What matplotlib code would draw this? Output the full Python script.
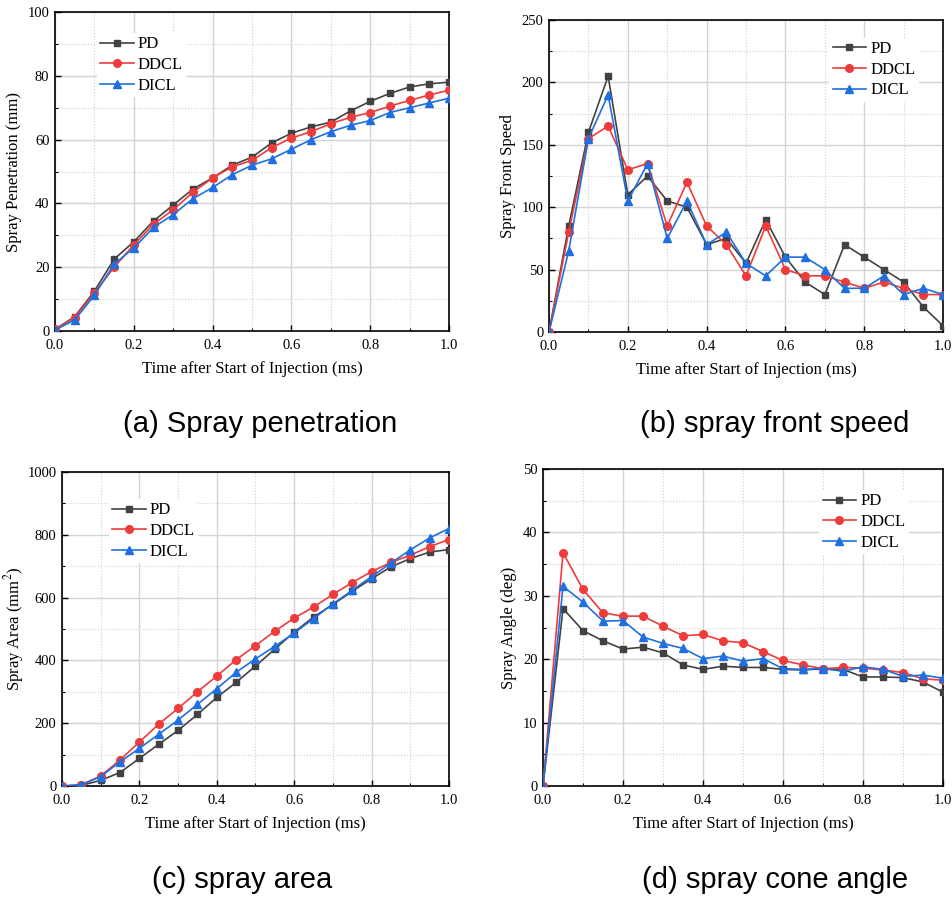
import matplotlib
matplotlib.use('Agg')
import matplotlib.pyplot as plt
from matplotlib.ticker import MultipleLocator, FormatStrFormatter

plt.rcParams['font.family'] = ['Liberation Serif']
plt.rcParams['font.size'] = 11
plt.rcParams['mathtext.fontset'] = 'stix'

# time axis (ms)
time_ms = [0.0, 0.05, 0.1, 0.15, 0.2, 0.25, 0.3, 0.35, 0.4, 0.45, 0.5,
           0.55, 0.6, 0.65, 0.7, 0.75, 0.8, 0.85, 0.9, 0.95, 1.0]
series_names = ['PD', 'DDCL', 'DICL']

# (a) spray penetration (mm)
pen_pd = [0.5, 4.5, 12.5, 22.5, 28, 34.5, 39.5, 44.5, 48, 52, 54.5,
          59, 62, 64, 65.5, 69, 72, 74.5, 76.5, 77.5, 78]
pen_ddcl = [0.5, 4.2, 12, 20, 27, 33.5, 38, 43.5, 48, 51.5, 53.5,
            57.5, 60.5, 62.5, 65, 67, 68.5, 70.5, 72.3, 74, 75.5]
pen_dicl = [0.3, 3.5, 11.2, 21, 26, 32.5, 36.5, 41.5, 45, 49, 52,
            54, 57, 60, 62.5, 64.5, 66, 68.5, 70, 71.5, 73]

# (b) spray front speed
spd_pd = [0, 85, 160, 205, 110, 125, 105, 100, 70, 75, 55,
          90, 60, 40, 30, 70, 60, 50, 40, 20, 5]
spd_ddcl = [0, 80, 155, 165, 130, 135, 85, 120, 85, 70, 45,
            85, 50, 45, 45, 40, 35, 40, 35, 30, 30]
spd_dicl = [0, 65, 155, 190, 105, 135, 75, 105, 70, 80, 55,
            45, 60, 60, 50, 35, 35, 45, 30, 35, 30]

# (c) spray area (mm^2)
area_pd = [0, 2, 18, 43, 88, 133, 177, 228, 282, 330, 382,
           436, 490, 538, 578, 620, 660, 698, 724, 745, 753]
area_ddcl = [0, 4, 32, 83, 140, 197, 247, 300, 350, 402, 447,
             493, 535, 570, 610, 648, 683, 712, 735, 762, 785]
area_dicl = [0, 4, 30, 77, 120, 165, 210, 260, 310, 362, 405,
             445, 487, 533, 580, 623, 667, 710, 752, 790, 820]

# (d) spray cone angle (deg)
ang_pd = [0, 28, 24.5, 22.9, 21.6, 21.9, 21, 19.1, 18.4, 18.9, 18.7,
          18.7, 18.4, 18.3, 18.5, 18.4, 17.2, 17.2, 17.1, 16.4, 14.8]
ang_ddcl = [0, 36.8, 31, 27.3, 26.8, 26.8, 25.2, 23.7, 23.9, 22.9, 22.6,
            21.2, 19.8, 19.1, 18.5, 18.7, 18.6, 18.3, 17.9, 16.9, 16.7]
ang_dicl = [0, 31.5, 29, 26, 26.1, 23.5, 22.5, 21.7, 20.1, 20.5, 19.7,
            20.1, 18.5, 18.4, 18.5, 18.1, 18.8, 18.4, 17.3, 17.5, 17.0]

colors = ['#424242', '#EE3B3B', '#1F6FE0']
markers = ['s', 'o', '^']
msizes = [5, 5.5, 6]


def draw_panel(ax, ys, ylabel, ymax, ymajor, legend_anchor, ylabelpad=4):
    for i, y in enumerate(ys):
        ax.plot(time_ms, y, color=colors[i], marker=markers[i], markersize=msizes[i],
                markerfacecolor=colors[i], markeredgecolor=colors[i],
                linewidth=1.2, label=series_names[i], zorder=3)
    ax.set_xlim(0, 1.0)
    ax.set_ylim(0, ymax)
    ax.xaxis.set_major_locator(MultipleLocator(0.2))
    ax.xaxis.set_minor_locator(MultipleLocator(0.1))
    ax.yaxis.set_major_locator(MultipleLocator(ymajor))
    ax.yaxis.set_minor_locator(MultipleLocator(ymajor / 2))
    ax.xaxis.set_major_formatter(FormatStrFormatter('%.1f'))
    ax.grid(True, which='major', color='#d4d4d4', linewidth=1.0, linestyle='-', zorder=0)
    ax.grid(True, which='minor', color='#cfcfcf', linewidth=0.8, linestyle=':', zorder=0)
    ax.set_axisbelow(True)
    ax.tick_params(which='both', direction='in', top=False, right=False, labelsize=10.5)
    ax.tick_params(which='major', length=4, width=1)
    ax.tick_params(which='minor', length=2, width=0.8)
    ax.tick_params(axis='x', which='major', pad=6)
    ax.tick_params(axis='y', which='major', pad=4)
    for sp in ax.spines.values():
        sp.set_linewidth(1.2)
    ax.set_xlabel('Time after Start of Injection (ms)', fontsize=12, labelpad=6)
    ax.set_ylabel(ylabel, fontsize=12, labelpad=ylabelpad)
    leg = ax.legend(loc='upper left', bbox_to_anchor=legend_anchor, fontsize=12,
                    frameon=True, framealpha=1, facecolor='white', edgecolor='none',
                    handlelength=2.0, handletextpad=0.25, labelspacing=0.28,
                    borderpad=0.2, fancybox=False)
    leg.set_zorder(5)


fig = plt.figure(figsize=(9.52, 8.98), dpi=100)
ax1 = fig.add_axes([0.0578, 0.6314, 0.4139, 0.3552])
ax2 = fig.add_axes([0.5767, 0.6303, 0.4139, 0.3474])
ax3 = fig.add_axes([0.0651, 0.1247, 0.4065, 0.3497])
ax4 = fig.add_axes([0.5704, 0.1247, 0.4202, 0.3530])

draw_panel(ax1, [pen_pd, pen_ddcl, pen_dicl], 'Spray Penetration (mm)', 100, 20, (0.085, 0.96))
draw_panel(ax2, [spd_pd, spd_ddcl, spd_dicl], 'Spray Front Speed', 250, 50, (0.69, 0.97))
draw_panel(ax3, [area_pd, area_ddcl, area_dicl], 'Spray Area (mm$^2$)', 1000, 200, (0.1, 0.94),
           ylabelpad=1)
draw_panel(ax4, [ang_pd, ang_ddcl, ang_dicl], 'Spray Angle (deg)', 50, 10, (0.67, 0.96))

captions = ['(a) Spray penetration', '(b) spray front speed', '(c) spray area', '(d) spray cone angle']
cap_pos = [(260, 424), (775, 424), (242, 880), (775, 880)]
for txt, (px, py) in zip(captions, cap_pos):
    fig.text(px / 952, 1 - py / 898, txt, ha='center', va='center',
             fontsize=21, family='Liberation Sans')

fig.savefig('out.png', dpi=100)
